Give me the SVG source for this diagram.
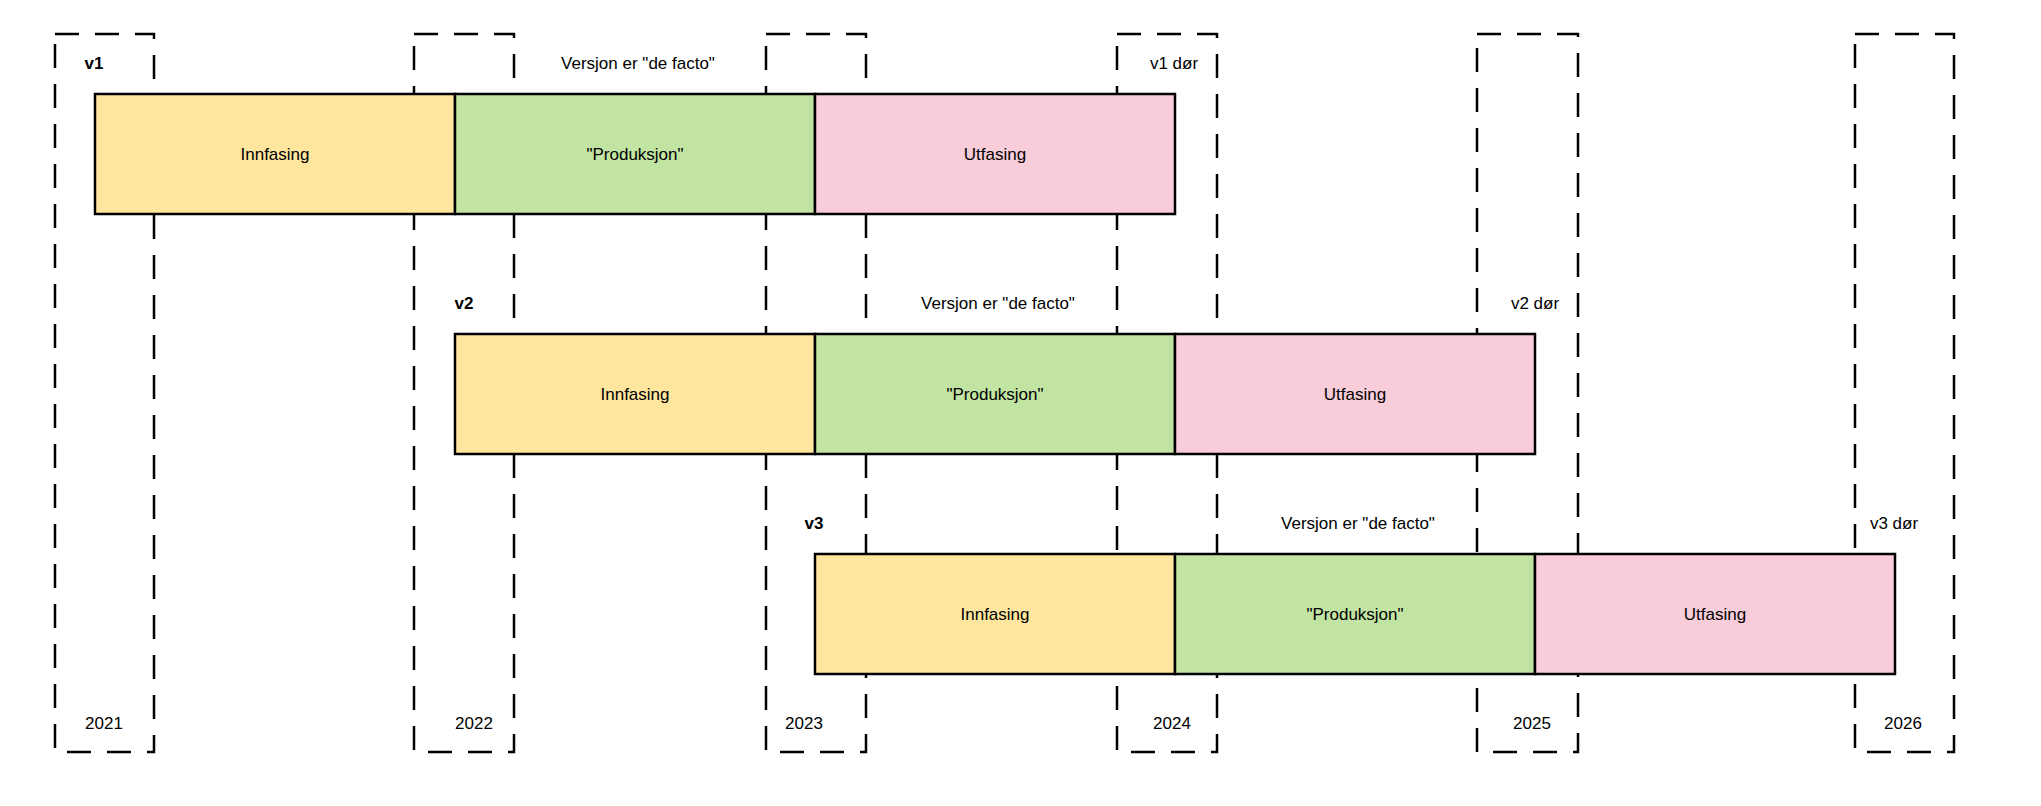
<svg xmlns="http://www.w3.org/2000/svg" width="2041" height="806" viewBox="0 0 2041 806">
<style>
text{font-family:"Liberation Sans",Arial,sans-serif;font-size:17px;fill:#000}
.b{font-weight:bold}
.m{text-anchor:middle;dominant-baseline:central}
.d{fill:none;stroke:#000;stroke-width:2.5;stroke-dasharray:24 16}
.r{stroke:#000;stroke-width:2.5}
.y{fill:#FFE69F}.g{fill:#C2E4A2}.p{fill:#F8CDD9}
</style>
<rect width="2041" height="806" fill="#fff"/>
<g id="years">
<rect class="d" x="55" y="34" width="99" height="718"/>
<rect class="d" x="414" y="34" width="100" height="718"/>
<rect class="d" x="766" y="34" width="100" height="718"/>
<rect class="d" x="1117" y="34" width="100" height="718"/>
<rect class="d" x="1477" y="34" width="101" height="718"/>
<rect class="d" x="1855" y="34" width="99" height="718"/>
<text class="m" x="104" y="723">2021</text>
<text class="m" x="474" y="723">2022</text>
<text class="m" x="804" y="723">2023</text>
<text class="m" x="1172" y="723">2024</text>
<text class="m" x="1532" y="723">2025</text>
<text class="m" x="1903" y="723">2026</text>
</g>
<g id="v1">
<rect class="r y" x="95" y="94" width="360" height="120"/>
<rect class="r g" x="455" y="94" width="360" height="120"/>
<rect class="r p" x="815" y="94" width="360" height="120"/>
<text class="m" x="275" y="154">Innfasing</text>
<text class="m" x="635" y="154">"Produksjon"</text>
<text class="m" x="995" y="154">Utfasing</text>
<text class="m b" x="94" y="63">v1</text>
<text class="m" x="638" y="63">Versjon er "de facto"</text>
<text class="m" x="1174" y="63">v1 dør</text>
</g>
<g id="v2">
<rect class="r y" x="455" y="334" width="360" height="120"/>
<rect class="r g" x="815" y="334" width="360" height="120"/>
<rect class="r p" x="1175" y="334" width="360" height="120"/>
<text class="m" x="635" y="394">Innfasing</text>
<text class="m" x="995" y="394">"Produksjon"</text>
<text class="m" x="1355" y="394">Utfasing</text>
<text class="m b" x="464" y="303">v2</text>
<text class="m" x="998" y="303">Versjon er "de facto"</text>
<text class="m" x="1535" y="303">v2 dør</text>
</g>
<g id="v3">
<rect class="r y" x="815" y="554" width="360" height="120"/>
<rect class="r g" x="1175" y="554" width="360" height="120"/>
<rect class="r p" x="1535" y="554" width="360" height="120"/>
<text class="m" x="995" y="614">Innfasing</text>
<text class="m" x="1355" y="614">"Produksjon"</text>
<text class="m" x="1715" y="614">Utfasing</text>
<text class="m b" x="814" y="523">v3</text>
<text class="m" x="1358" y="523">Versjon er "de facto"</text>
<text class="m" x="1894" y="523">v3 dør</text>
</g>
<g id="connectors"/>
</svg>
